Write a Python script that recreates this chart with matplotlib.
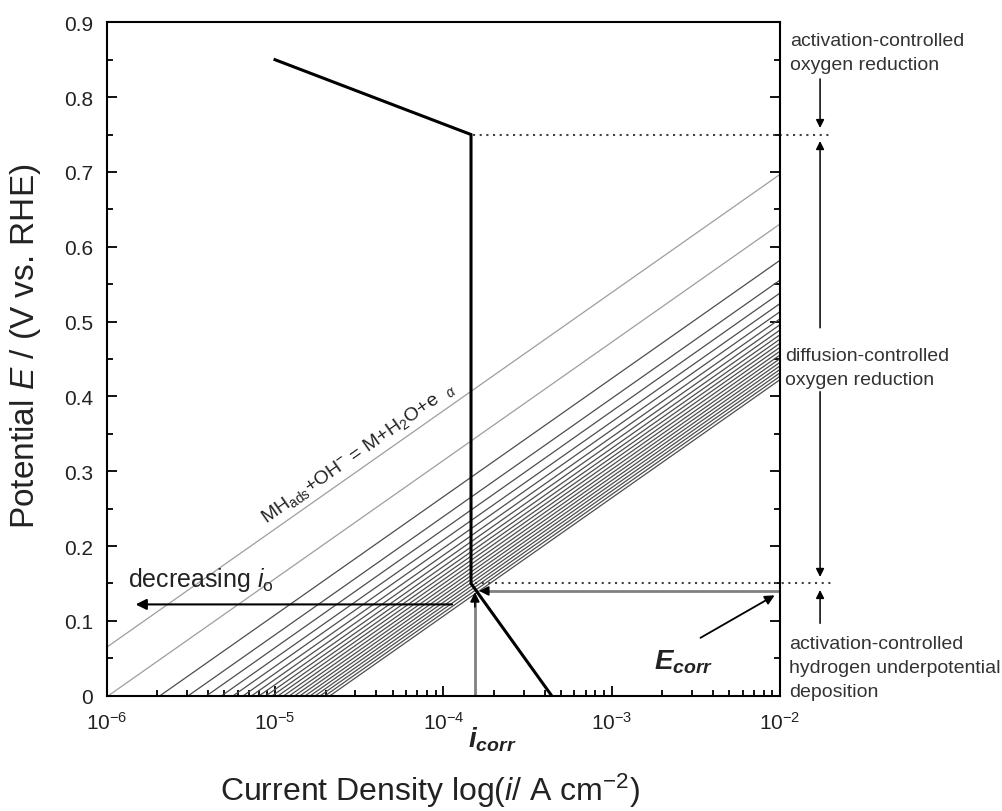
import matplotlib
matplotlib.use("Agg")
import matplotlib.pyplot as plt
import matplotlib.ticker as mticker
import numpy as np

# family of Tafel lines: log10(i) where each line crosses E = 0, common slope (V/decade)
tafel_log_i0 = [-6.41, -5.99, -5.683, -5.515, -5.406, -5.317, -5.248, -5.188, -5.138, -5.093,
                -5.053, -5.016, -4.981, -4.947, -4.914, -4.882, -4.851, -4.820, -4.790, -4.760,
                -4.731, -4.702, -4.673]
tafel_slope = 0.158

# polarisation curve (thick black)
polar_i = [1.0e-5, 1.46e-4, 1.46e-4, 4.4e-4]
polar_E = [0.85, 0.75, 0.15, 0.0]

i_corr = 1.54e-4
E_corr = 0.15
E_oxygen = 0.75
E_arrow = 0.14
E_decr = 0.122

plt.rcParams['font.family'] = ['Liberation Sans', 'DejaVu Sans']
plt.rcParams['mathtext.fontset'] = 'custom'
plt.rcParams['mathtext.rm'] = 'Liberation Sans'
plt.rcParams['mathtext.it'] = 'Liberation Sans:italic'
plt.rcParams['mathtext.bf'] = 'Liberation Sans:bold'
plt.rcParams['mathtext.bfit'] = 'Liberation Sans:italic:bold'

W, H = 1002, 812
fig = plt.figure(figsize=(W / 100, H / 100), dpi=100)
ax = fig.add_axes([106.7 / W, 1 - 696.7 / H, (780 - 106.7) / W, (696.7 - 23.3) / H])

ax.set_xscale('log')
ax.set_xlim(1e-6, 1e-2)
ax.set_ylim(0, 0.9)

# Tafel lines
for k, l0 in enumerate(tafel_log_i0):
    col = '0.62' if k < 2 else '0.3'
    ax.plot([10 ** l0, 1e-2], [0.0, tafel_slope * (-2 - l0)], color=col, lw=0.9)

ax.plot(polar_i, polar_E, color='black', lw=2.2, solid_joinstyle='miter')

# dotted guide lines
ax.plot([1.5e-4, 0.0207], [E_oxygen, E_oxygen], color='0.25', lw=1.5,
        ls=(0, (1, 2.2)), clip_on=False)
ax.plot([1.55e-4, 0.0207], [E_corr, E_corr], color='0.25', lw=1.5,
        ls=(0, (1, 2.2)), clip_on=False)

# i_corr vertical arrow and E_corr horizontal arrow (gray shafts, black heads)
ax.plot([i_corr, i_corr], [0.0, 0.125], color='0.5', lw=2)
ax.annotate('', xy=(i_corr, 0.142), xytext=(i_corr, 0.115),
            arrowprops=dict(arrowstyle='-|>', color='black', lw=1.2, mutation_scale=14))
ax.plot([1e-2, 1.75e-4], [E_arrow, E_arrow], color='0.5', lw=2)
ax.annotate('', xy=(1.57e-4, E_arrow), xytext=(1.9e-4, E_arrow),
            arrowprops=dict(arrowstyle='-|>', color='black', lw=1.2, mutation_scale=14))

# decreasing i_o arrow
ax.annotate('', xy=(1.43e-6, E_decr), xytext=(1.17e-4, E_decr),
            arrowprops=dict(arrowstyle='-|>', color='black', lw=1.5, mutation_scale=16))
ax.text(1.34e-6, 0.146, r'decreasing $i_{\mathrm{o}}$', fontsize=18, color='#222222')

# E_corr pointer
ax.annotate('', xy=(9.6e-3, 0.136), xytext=(3.26e-3, 0.0755),
            arrowprops=dict(arrowstyle='-|>', color='black', lw=1.3, mutation_scale=14))
ax.text(1.78e-3, 0.036, r'$\mathbfit{E}_{\mathbfit{corr}}$', fontsize=20, color='#222222')

# i_corr label under the axis
ax.text(1.4e-4, -0.075, r'$\mathbfit{i}_{\mathbfit{corr}}$', fontsize=20, color='#222222',
        ha='left', va='baseline', transform=ax.get_xaxis_transform())

# reaction label along the top Tafel line
fig.canvas.draw()
p0 = ax.transData.transform((10 ** tafel_log_i0[0], 0.0))
p1 = ax.transData.transform((1e-2, tafel_slope * (-2 - tafel_log_i0[0])))
ang = np.degrees(np.arctan2(p1[1] - p0[1], p1[0] - p0[0]))
ax.text(3.13e-5, 0.326, r'MH$_{\mathrm{ads}}$+OH$^{-}$ = M+H$_2$O+e  $_{\alpha}$', fontsize=14,
        color='#222222', rotation=ang, rotation_mode='anchor', ha='center', va='center')

# right-hand annotations
x_ann = 0.0173
arrow_kw = dict(arrowstyle='-|>', color='black', lw=1.1, mutation_scale=12)
ax.annotate('', xy=(x_ann, 0.755), xytext=(x_ann, 0.828), arrowprops=arrow_kw,
            annotation_clip=False)
ax.annotate('', xy=(x_ann, 0.745), xytext=(x_ann, 0.488), arrowprops=arrow_kw,
            annotation_clip=False)
ax.annotate('', xy=(x_ann, 0.155), xytext=(x_ann, 0.41), arrowprops=arrow_kw,
            annotation_clip=False)
ax.annotate('', xy=(x_ann, 0.145), xytext=(x_ann, 0.093), arrowprops=arrow_kw,
            annotation_clip=False)

# va='baseline' puts the last line on the given y
txt_kw = dict(fontsize=14, color='#333333', va='baseline', linespacing=1.55)
fig.text(790 / W, 1 - 70 / H, 'activation-controlled\noxygen reduction', **txt_kw)
fig.text(785 / W, 1 - 385 / H, 'diffusion-controlled\noxygen reduction', **txt_kw)
fig.text(789 / W, 1 - 697 / H, 'activation-controlled\nhydrogen underpotential\ndeposition', **txt_kw)

# axes styling
ax.yaxis.set_major_locator(mticker.MultipleLocator(0.1))
ax.yaxis.set_minor_locator(mticker.MultipleLocator(0.05))
ax.yaxis.set_major_formatter(mticker.FuncFormatter(lambda v, p: '0' if abs(v) < 1e-9 else f'{v:.1f}'))
ax.xaxis.set_major_locator(mticker.LogLocator(base=10, numticks=10))
ax.xaxis.set_minor_locator(mticker.LogLocator(base=10, subs=np.arange(2, 10), numticks=20))
ax.xaxis.set_minor_formatter(mticker.NullFormatter())

ax.tick_params(which='both', direction='in', top=False, right=True, width=1.3, colors='black',
               labelcolor='#222222', labelsize=15)
ax.tick_params(which='major', length=7)
ax.tick_params(which='minor', length=4)
ax.tick_params(axis='y', pad=10)
ax.tick_params(axis='x', pad=11)
for s in ax.spines.values():
    s.set_linewidth(1.5)

ax.set_ylabel(r'Potential $E$ / (V vs. RHE)', fontsize=24, color='#222222')
ax.yaxis.set_label_coords(-0.0946, 0.52)
ax.set_xlabel(r'Current Density log($i$/ A cm$^{-2}$)', fontsize=23, color='#222222')
ax.xaxis.set_label_coords(0.48, -0.112)

fig.savefig('out.png', dpi=100)
